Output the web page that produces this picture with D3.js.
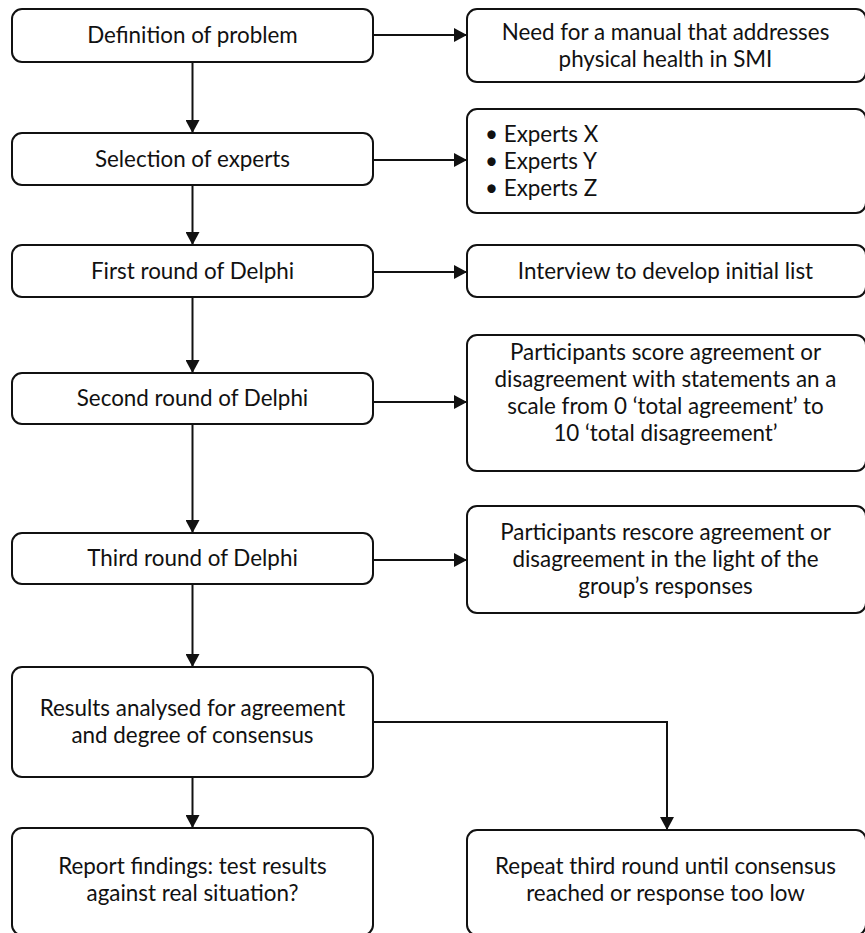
<!DOCTYPE html>
<html>
<head>
<meta charset="utf-8">
<style>
  body { margin: 0; background: #fff; }
  svg { display: block; }
  .box { fill: #fff; stroke: #111; stroke-width: 2; }
  .link { fill: none; stroke: #111; stroke-width: 2; }
  .label { font-family: Lato, "Open Sans", sans-serif; font-size: 22.4px; fill: #111; }
</style>
<script src="https://d3js.org/d3.v7.min.js"></script>
</head>
<body>
<svg width="865" height="933"></svg>
<script>

// step texts (left column)
var steps = [
    ["Definition of problem"],
    ["Selection of experts"],
    ["First round of Delphi"],
    ["Second round of Delphi"],
    ["Third round of Delphi"],
    ["Results analysed for agreement", "and degree of consensus"],
    ["Report findings: test results", "against real situation?"]
];

// note texts (right column)
var notes = [
    ["Need for a manual that addresses", "physical health in SMI"],
    ["\u2022 Experts X", "\u2022 Experts Y", "\u2022 Experts Z"],
    ["Interview to develop initial list"],
    ["Participants score agreement or", "disagreement with statements an a", "scale from 0 \u2018total agreement\u2019 to", "10 \u2018total disagreement\u2019"],
    ["Participants rescore agreement or", "disagreement in the light of the", "group\u2019s responses"],
    ["Repeat third round until consensus", "reached or response too low"]
];

// which step points to which note
var stepToNote = [[0, 0], [1, 1], [2, 2], [3, 3], [4, 4]];

// ---- layout (pixels) ----
var leftCol = {x0: 12, x1: 373};
var rightCol = {x0: 467, x1: 866};
var stepRows = [[9, 62], [133, 185], [245, 297], [373, 424], [533, 584], [667, 777], [828, 935]];
var noteRows = [[9, 82], [109, 213], [245, 297], [335, 471], [506, 613], [830, 935]];
var noteTextShift = [0, 0, 0, -10, 0, 0];
var arrowY = [35, 160, 272, 402, 560];
var lineH = 27;
var loopX = 667;

var svg = d3.select("svg");

svg.append("defs").append("marker")
    .attr("id", "arrow")
    .attr("viewBox", "0 0 13 14")
    .attr("refX", 13).attr("refY", 7)
    .attr("markerWidth", 13).attr("markerHeight", 14)
    .attr("markerUnits", "userSpaceOnUse")
    .attr("orient", "auto")
  .append("path")
    .attr("d", "M0,0 L13,7 L0,14 Z")
    .attr("fill", "#111");

var y = d3.scaleIdentity(), x = d3.scaleIdentity();

var stepBoxes = steps.map(function(t, i) {
    return {lines: t, x0: leftCol.x0, x1: leftCol.x1, y0: stepRows[i][0], y1: stepRows[i][1], shift: 0, align: "middle"};
});
var noteBoxes = notes.map(function(t, i) {
    return {lines: t, x0: rightCol.x0, x1: rightCol.x1, y0: noteRows[i][0], y1: noteRows[i][1],
            shift: noteTextShift[i], align: i === 1 ? "start" : "middle"};
});
var boxes = stepBoxes.concat(noteBoxes);

var links = svg.append("g");

// vertical arrows down the left column
var cx = (leftCol.x0 + leftCol.x1) / 2;
for (var i = 0; i < steps.length - 1; i++) {
    links.append("line").attr("class", "link")
        .attr("x1", x(cx)).attr("x2", x(cx))
        .attr("y1", y(stepRows[i][1])).attr("y2", y(stepRows[i + 1][0]))
        .attr("marker-end", "url(#arrow)");
}

// horizontal arrows to the notes
stepToNote.forEach(function(p, k) {
    links.append("line").attr("class", "link")
        .attr("x1", x(leftCol.x1)).attr("x2", x(rightCol.x0))
        .attr("y1", y(arrowY[k])).attr("y2", y(arrowY[k]))
        .attr("marker-end", "url(#arrow)");
});

// elbow from results to repeat
var rMid = (stepRows[5][0] + stepRows[5][1]) / 2;
links.append("path").attr("class", "link")
    .attr("d", d3.line()([[leftCol.x1, rMid], [loopX, rMid], [loopX, noteRows[5][0]]]))
    .attr("marker-end", "url(#arrow)");

var g = svg.append("g").selectAll("g").data(boxes).join("g");

g.append("rect").attr("class", "box")
    .attr("x", function(d) { return x(d.x0); })
    .attr("y", function(d) { return y(d.y0); })
    .attr("width", function(d) { return d.x1 - d.x0; })
    .attr("height", function(d) { return d.y1 - d.y0; })
    .attr("rx", 10).attr("ry", 10);

g.each(function(d) {
    var mid = Math.min((d.y0 + d.y1) / 2, 880) + d.shift;
    var top = mid - (d.lines.length - 1) * lineH / 2;
    var tx = d.align === "start" ? d.x0 + 18 : (d.x0 + Math.min(d.x1, 864)) / 2;
    d3.select(this).selectAll("text").data(d.lines).join("text")
        .attr("class", "label")
        .attr("x", tx)
        .attr("y", function(l, j) { return top + j * lineH; })
        .attr("dy", "0.35em")
        .attr("text-anchor", d.align)
        .text(function(l) { return l; });
});

</script>
</body>
</html>
